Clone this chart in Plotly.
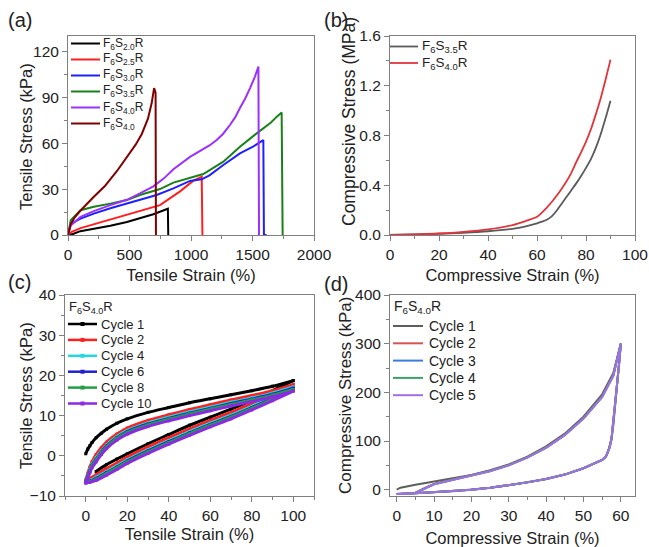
import plotly.graph_objects as go

# ---------------- Panel (a): tensile curves ----------------
a_names = ["F<sub>6</sub>S<sub>2.0</sub>R", "F<sub>6</sub>S<sub>2.5</sub>R", "F<sub>6</sub>S<sub>3.0</sub>R",
           "F<sub>6</sub>S<sub>3.5</sub>R", "F<sub>6</sub>S<sub>4.0</sub>R", "F<sub>6</sub>S<sub>4.0</sub>"]
a_colors = ["#000000", "#ff1f1f", "#1f1fff", "#1a801a", "#9b30ff", "#800000"]
s20_x = [0, 40, 100, 210, 344, 479, 585, 694, 790, 812, 815, 820]
s20_y = [0, 0.7, 2.5, 4, 6, 8.5, 10.9, 13.6, 16.5, 17.2, 0, 0]
s25_x = [0, 30, 102, 210, 344, 479, 585, 748, 911, 1019, 1087, 1093]
s25_y = [0, 2, 4.5, 7, 10, 13, 15.5, 19.5, 28.5, 35.5, 38, 0]
s30_x = [0, 22, 102, 210, 344, 479, 585, 721, 857, 992, 1087, 1150, 1263, 1398, 1500, 1575, 1588, 1593, 1615]
s30_y = [0, 7.3, 10.7, 14, 17.5, 20.5, 23, 26.1, 30.5, 35.3, 36.4, 39, 45.7, 53.3, 57.5, 61.6, 62, 0, 0]
s35_x = [0, 22, 102, 210, 344, 479, 585, 748, 857, 1000, 1100, 1263, 1398, 1534, 1650, 1700, 1737, 1745]
s35_y = [0, 9.6, 16.2, 18.4, 20.5, 22.8, 26.1, 30, 34.2, 37.2, 39.8, 47.9, 57.7, 66.4, 73.5, 77.5, 80, 0]
s40_x = [0, 22, 102, 210, 344, 479, 585, 694, 780, 857, 992, 1100, 1150, 1209, 1260, 1318, 1360, 1398,
         1440, 1480, 1520, 1548, 1553]
s40_y = [0, 6.2, 11.8, 15.6, 19.5, 23, 27.2, 31.8, 37, 43, 51, 56, 58.5, 62, 66, 72, 77, 83, 89, 96,
         103.5, 110, 0]
s40n_x = [0, 22, 50, 102, 210, 300, 400, 479, 550, 600, 650, 680, 700, 712, 715]
s40n_y = [0, 7, 11, 16, 25, 32, 42, 51, 59, 66, 76, 86, 96, 93, 0]
a_x = [s20_x, s25_x, s30_x, s35_x, s40_x, s40n_x]
a_y = [s20_y, s25_y, s30_y, s35_y, s40_y, s40n_y]

# ---------------- Panel (b): compressive curves ----------------
b_names = ["F<sub>6</sub>S<sub>3.5</sub>R", "F<sub>6</sub>S<sub>4.0</sub>R"]
b_colors = ["#5a5a5a", "#e0353a"]
b_strain = [0, 10, 20, 30, 40, 50, 55, 60, 62, 64, 66, 68, 70, 72, 74, 76, 78, 80, 82, 84, 86, 88, 90]
b_s35 = [0, 0.004, 0.01, 0.018, 0.03, 0.05, 0.068, 0.094, 0.107, 0.123, 0.15, 0.195, 0.25, 0.305, 0.36,
         0.415, 0.475, 0.54, 0.61, 0.70, 0.81, 0.94, 1.08]
b_s40 = [0, 0.005, 0.012, 0.025, 0.045, 0.08, 0.11, 0.147, 0.18, 0.22, 0.265, 0.315, 0.37, 0.43, 0.50,
         0.585, 0.665, 0.75, 0.85, 0.97, 1.1, 1.25, 1.41]

# ---------------- Panel (c): tensile cycles ----------------
c_title = "F<sub>6</sub>S<sub>4.0</sub>R"
c_names = ["Cycle 1", "Cycle 2", "Cycle 4", "Cycle 6", "Cycle 8", "Cycle 10"]
c_colors = ["#000000", "#ff1f1f", "#22d8e0", "#2020d0", "#22a040", "#8a2be2"]
c_up_strain = [0, 1, 2, 3, 5, 7.5, 10, 15, 20, 30, 40, 50, 60, 70, 80, 90, 100]
c_dn_strain = [100, 90, 80, 70, 60, 50, 40, 30, 20, 15, 10, 5, 2, 0]
c1_up = [0.5, 1.7, 2.5, 3.3, 4.5, 5.6, 6.6, 8.1, 9.2, 10.8, 12.0, 13.2, 14.2, 15.2, 16.2, 17.3, 18.7]
c2_up = [-6.0, -4.3, -2.8, -1.5, 0.3, 2.0, 3.4, 5.4, 6.9, 8.8, 10.2, 11.5, 12.7, 13.9, 15.0, 16.2, 17.7]
c4_up = [-6.3, -4.8, -3.4, -2.1, -0.5, 1.2, 2.7, 4.8, 6.3, 8.2, 9.6, 10.9, 12.1, 13.3, 14.4, 15.6, 17.1]
c6_up = [-6.4, -5.0, -3.7, -2.4, -0.9, 0.9, 2.4, 4.5, 6.0, 7.9, 9.3, 10.6, 11.8, 13.0, 14.1, 15.3, 16.8]
c8_up = [-6.5, -5.2, -3.9, -2.6, -1.1, 0.7, 2.2, 4.3, 5.8, 7.7, 9.1, 10.4, 11.6, 12.8, 13.9, 15.1, 16.5]
c10_up = [-6.7, -5.5, -4.2, -3.0, -1.5, 0.3, 1.8, 3.9, 5.4, 7.3, 8.7, 10.0, 11.2, 12.4, 13.5, 14.7, 16.1]
c1_dn = [18.7, 16.2, 13.8, 11.6, 9.6, 7.6, 5.3, 3.0, 0.5, -0.8, -2.2, -3.9, None, None]
c2_dn = [17.7, 15.2, 13.0, 10.8, 8.8, 6.7, 4.5, 2.2, -0.3, -1.8, -3.2, -4.7, -5.6, -6.2]
c4_dn = [17.1, 14.6, 12.3, 10.1, 8.1, 6.0, 3.8, 1.5, -1.0, -2.5, -3.9, -5.3, -6.1, -6.5]
c6_dn = [16.8, 14.3, 12.0, 9.8, 7.8, 5.7, 3.5, 1.2, -1.3, -2.8, -4.2, -5.6, -6.3, -6.6]
c8_dn = [16.5, 14.1, 11.8, 9.6, 7.6, 5.5, 3.3, 1.0, -1.5, -3.0, -4.4, -5.8, -6.4, -6.7]
c10_dn = [16.1, 13.7, 11.4, 9.2, 7.2, 5.1, 2.9, 0.6, -1.9, -3.4, -4.8, -6.1, -6.6, -6.8]
c_up = [c1_up, c2_up, c4_up, c6_up, c8_up, c10_up]
c_dn = [c1_dn, c2_dn, c4_dn, c6_dn, c8_dn, c10_dn]

# ---------------- Panel (d): compressive cycles ----------------
d_title = "F<sub>6</sub>S<sub>4.0</sub>R"
d_names = ["Cycle 1", "Cycle 2", "Cycle 3", "Cycle 4", "Cycle 5"]
d_colors = ["#5e5e5e", "#d9534f", "#3b7dd8", "#3aa36a", "#a070e0"]
d1_load_strain = [0, 1, 5, 10, 15, 20, 25, 30, 35, 40, 45, 50, 55, 58, 60]
d1_load = [0, 4, 10, 17, 23, 30, 40, 52, 68, 89, 115, 150, 196, 240, 300]
dn_load_strain = [0, 4, 5, 6, 8, 10, 15, 20, 25, 30, 35, 40, 45, 50, 55, 58, 60]
d2_load = [-9, -9, -6, -2, 5, 12, 21, 29, 39, 51, 67, 87, 113, 147, 192, 237, 298]
d3_load = [-9, -9, -6.5, -2.5, 4.5, 11.5, 20.5, 28.5, 38.5, 50.5, 66.5, 86.5, 112.5, 146.5, 191, 235.5, 297]
d4_load = [-9, -9, -6.8, -2.8, 4.2, 11.2, 20.2, 28.2, 38.2, 50.2, 66.2, 86.2, 112.2, 146.2, 190.5, 234.5, 296.5]
d5_load = [-9, -9, -7, -3, 4, 11, 20, 28, 38, 50, 66, 86, 112, 146, 190, 234, 296]
d_unload_strain = [60, 59.5, 59, 58.5, 58, 57.5, 57, 56.5, 56, 55, 50, 45, 40, 35, 30, 25, 20, 15, 10, 5, 0]
d_unload = [300, 255, 215, 172, 132, 104, 87, 76, 68, 61, 44, 31, 22, 15, 9, 4, 0, -3, -5.5, -7.5, -9]
d_load_x = [d1_load_strain, dn_load_strain, dn_load_strain, dn_load_strain, dn_load_strain]
d_load_y = [d1_load, d2_load, d3_load, d4_load, d5_load]

W, H = 649, 547
FONT = "Liberation Sans, Arial, sans-serif"
TXT = "#222222"


def px(x):
    return x / W


def py(y):
    return 1 - y / H


fig = go.Figure()

for i in range(6):
    fig.add_trace(go.Scatter(x=a_x[i], y=a_y[i], mode="lines", name=a_names[i], showlegend=False,
                             line=dict(color=a_colors[i], width=2), xaxis="x", yaxis="y"))
for i in range(2):
    fig.add_trace(go.Scatter(x=b_strain, y=[b_s35, b_s40][i], mode="lines", name=b_names[i],
                             showlegend=False,
                             line=dict(color=b_colors[i], width=1.8, shape="spline", smoothing=0.8),
                             xaxis="x2", yaxis="y2"))
for i in range(6):
    fig.add_trace(go.Scatter(x=c_up_strain + c_dn_strain, y=c_up[i] + c_dn[i], mode="lines+markers",
                             name=c_names[i], showlegend=False,
                             line=dict(color=c_colors[i], width=3, shape="spline", smoothing=0.6),
                             marker=dict(color=c_colors[i], size=3, symbol="square"),
                             xaxis="x3", yaxis="y3"))
for i in range(5):
    fig.add_trace(go.Scatter(x=d_load_x[i] + d_unload_strain, y=d_load_y[i] + d_unload, mode="lines",
                             name=d_names[i], showlegend=False,
                             line=dict(color=d_colors[i], width=2), xaxis="x4", yaxis="y4"))

axis_common = dict(showline=True, linecolor="#808080", linewidth=1, mirror=True,
                   ticks="outside", ticklen=5, tickcolor="#808080", tickwidth=1,
                   showgrid=False, zeroline=False, automargin=False,
                   tickfont=dict(family=FONT, size=15.5, color=TXT),
                   title_font=dict(family=FONT, size=16.5, color=TXT))


def minor(d):
    return dict(ticks="outside", ticklen=3, tickcolor="#808080", dtick=d, showgrid=False)


xa = [68, 314]; xb = [390, 635]; xc = [65, 314]
ytop = [36, 235]; ybot = [295, 496]

fig.update_layout(
    width=W, height=H, margin=dict(l=0, r=0, t=0, b=0, autoexpand=False),
    paper_bgcolor="white", plot_bgcolor="white", showlegend=False,
    font=dict(family=FONT, color=TXT),
    xaxis=dict(axis_common, domain=[px(xa[0]), px(xa[1])], range=[0, 2000], dtick=500,
               minor=minor(250), anchor="y",
               title=dict(text="Tensile Strain (%)", standoff=7)),
    yaxis=dict(axis_common, domain=[py(ytop[1]), py(ytop[0])], range=[0, 130], dtick=30,
               minor=minor(15), anchor="x"),
    xaxis2=dict(axis_common, domain=[px(xb[0]), px(xb[1])], range=[0, 100], dtick=20,
                minor=minor(10), anchor="y2",
                title=dict(text="Compressive Strain (%)", standoff=7)),
    yaxis2=dict(axis_common, domain=[py(ytop[1]), py(ytop[0])], range=[0, 1.6], dtick=0.4,
                tickformat=".1f", minor=minor(0.2), anchor="x2"),
    xaxis3=dict(axis_common, domain=[px(xc[0]), px(xc[1])], range=[-10, 110], dtick=20,
                tick0=0, minor=minor(10), anchor="y3",
                title=dict(text="Tensile Strain (%)", standoff=5)),
    yaxis3=dict(axis_common, domain=[py(ybot[1]), py(ybot[0])], range=[-10, 40], dtick=10,
                minor=minor(5), anchor="x3"),
    xaxis4=dict(axis_common, domain=[px(xb[0]), px(xb[1])], range=[-1.8, 63.8], dtick=10,
                tick0=0, minor=minor(5), anchor="y4",
                title=dict(text="Compressive Strain (%)", standoff=9)),
    yaxis4=dict(axis_common, domain=[py(ybot[1]), py(ybot[0])], range=[-13, 400], dtick=100,
                tick0=0, minor=minor(50), anchor="x4"),
)


def add_text(text, x, y, size, xanchor="left", angle=0):
    fig.add_annotation(text=text, x=px(x), y=py(y), xref="paper", yref="paper",
                       xanchor=xanchor, yanchor="middle", showarrow=False, textangle=angle,
                       font=dict(family=FONT, size=size, color=TXT))


# y-axis titles
add_text("Tensile Stress (kPa)", 26, 137, 16.5, xanchor="center", angle=-90)
add_text("Compressive Stress (MPa)", 349, 122, 17.5, xanchor="center", angle=-90)
add_text("Tensile Stress (kPa)", 26, 396, 16.5, xanchor="center", angle=-90)
add_text("Compressive Stress (kPa)", 345, 396, 17, xanchor="center", angle=-90)


def add_legend(names, colors, x0, x1, xt, y0, dy, size, width, marker=False, title=None, ty=None):
    if title is not None:
        add_text(title, x0 - 1, ty, size)
    for k, (nm, col) in enumerate(zip(names, colors)):
        yy = y0 + k * dy
        fig.add_shape(type="line", xref="paper", yref="paper", x0=px(x0), x1=px(x1),
                      y0=py(yy), y1=py(yy), line=dict(color=col, width=width))
        if marker:
            xm = (x0 + x1) / 2
            fig.add_shape(type="rect", xref="paper", yref="paper", x0=px(xm - 2), x1=px(xm + 2),
                          y0=py(yy - 2), y1=py(yy + 2), line=dict(width=0), fillcolor=col)
        add_text(nm, xt, yy, size)


add_legend(a_names, a_colors, 71, 100, 101, 43.5, 16, 12, 2)
add_legend(b_names, b_colors, 390, 418, 420, 46.5, 16.5, 13.5, 1.8)
add_legend(c_names, c_colors, 68, 97, 99, 324, 15.9, 13, 2.5, marker=True, title=c_title, ty=307)
add_legend(d_names, d_colors, 393, 423, 427, 326, 17.3, 14, 2, title=d_title, ty=307)

labels = [("(a)", 6, 20), ("(b)", 322, 20), ("(c)", 6, 282), ("(d)", 322, 284)]
for t, x, y in labels:
    add_text(t, x, y, 20)

fig.write_html("out.html", config={"displayModeBar": False},
               post_script="document.body.style.margin='0';document.body.style.overflow='hidden';")
